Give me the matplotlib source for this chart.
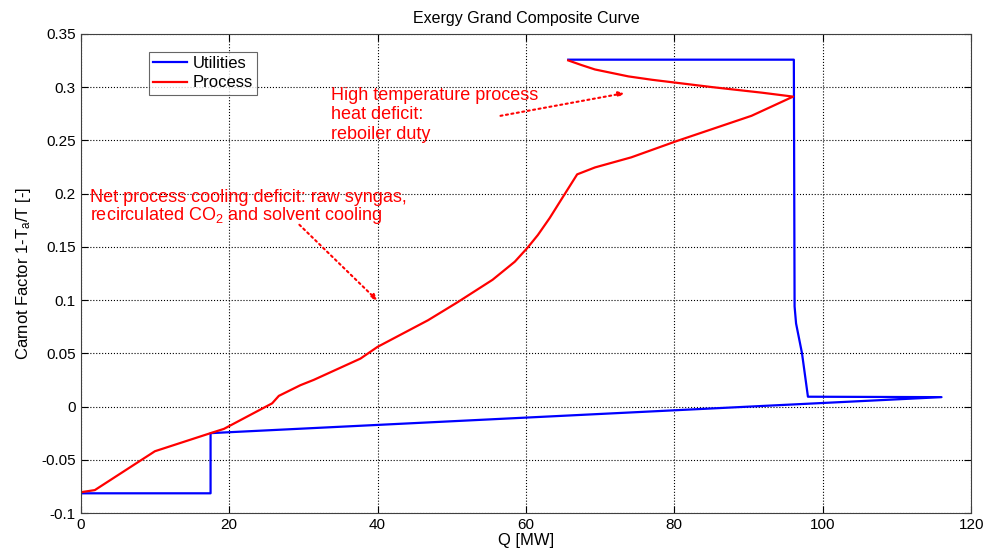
import matplotlib
matplotlib.use('Agg')
import matplotlib.pyplot as plt

plt.rcParams['font.family'] = ['Liberation Sans', 'DejaVu Sans']
plt.rcParams['mathtext.default'] = 'regular'

# Utilities curve (Q in MW, Carnot factor)
util_q = [0, 17.5, 17.5, 116.0, 98.0, 97.2, 96.4, 96.2, 96.1, 65.7]
util_c = [-0.0815, -0.0815, -0.025, 0.0088, 0.0092, 0.05, 0.078, 0.094, 0.3257, 0.3257]

# Process curve
proc_q = [0, 1.9, 10.0, 17.5, 19.3, 25.8, 26.7, 29.6, 31.4, 37.7, 40.0, 46.8,
          50.8, 55.5, 58.5, 60.2, 61.6, 63.2, 65.0, 66.9, 69.3, 74.2, 80.2,
          90.4, 96.0, 91.8, 85.0, 80.3, 77.0, 73.8, 69.3, 67.5, 65.7]
proc_c = [-0.0805, -0.0785, -0.042, -0.025, -0.021, 0.003, 0.010, 0.020, 0.025,
          0.045, 0.056, 0.081, 0.098, 0.119, 0.136, 0.149, 0.161, 0.177, 0.197,
          0.218, 0.2245, 0.234, 0.249, 0.273, 0.291, 0.2947, 0.300, 0.304,
          0.3068, 0.3100, 0.3165, 0.3206, 0.325]

fig = plt.figure(figsize=(9.89, 5.54), dpi=100)
ax = fig.add_axes([0.0816, 0.074, 0.9004, 0.865])

ax.plot(util_q, util_c, color='#0000ff', lw=1.6, label='Utilities')
ax.plot(proc_q, proc_c, color='#ff0000', lw=1.6, label='Process')

ax.set_xlim(0, 120)
ax.set_ylim(-0.1, 0.35)
ax.set_xticks(range(0, 121, 20))
ax.set_yticks([-0.1, -0.05, 0, 0.05, 0.1, 0.15, 0.2, 0.25, 0.3, 0.35])
ax.set_yticklabels(['-0.1', '-0.05', '0', '0.05', '0.1', '0.15', '0.2', '0.25', '0.3', '0.35'])
ax.tick_params(direction='in', top=True, right=True, labelsize=11, length=5)
ax.grid(True, color='k', linestyle=':', lw=0.8)
for s in ax.spines.values():
    s.set_color('#404040')

ax.set_title('Exergy Grand Composite Curve', fontsize=11.5, pad=8)
ax.set_xlabel('Q [MW]', fontsize=12, labelpad=1)
ax.set_ylabel('Carnot Factor 1-T$_a$/T [-]', fontsize=12, labelpad=6)

leg = ax.legend(loc='upper left', bbox_to_anchor=(0.077, 0.962), borderaxespad=0,
                fancybox=False, fontsize=12, handlelength=2.0, labelspacing=0.25,
                borderpad=0.25, handletextpad=0.35)
leg.get_frame().set_edgecolor('#404040')
leg.get_frame().set_linewidth(0.8)

ax.text(33.7, 0.300, 'High temperature process\nheat deficit:\nreboiler duty',
        color='#ff0000', fontsize=13, va='top', ha='left', linespacing=1.18)
ax.annotate('', xy=(73.6, 0.2947), xytext=(56.2, 0.2725),
            arrowprops=dict(arrowstyle='-|>', ls=':', color='#ff0000', lw=1.5,
                            mutation_scale=8))

ax.text(1.3, 0.204, 'Net process cooling deficit: raw syngas,\nrecirculated CO$_2$ and solvent cooling',
        color='#ff0000', fontsize=13, va='top', ha='left', linespacing=0.9)
ax.annotate('', xy=(40.2, 0.098), xytext=(29.2, 0.1725),
            arrowprops=dict(arrowstyle='-|>', ls=':', color='#ff0000', lw=1.5,
                            mutation_scale=8))

fig.savefig('out.png', dpi=100)
